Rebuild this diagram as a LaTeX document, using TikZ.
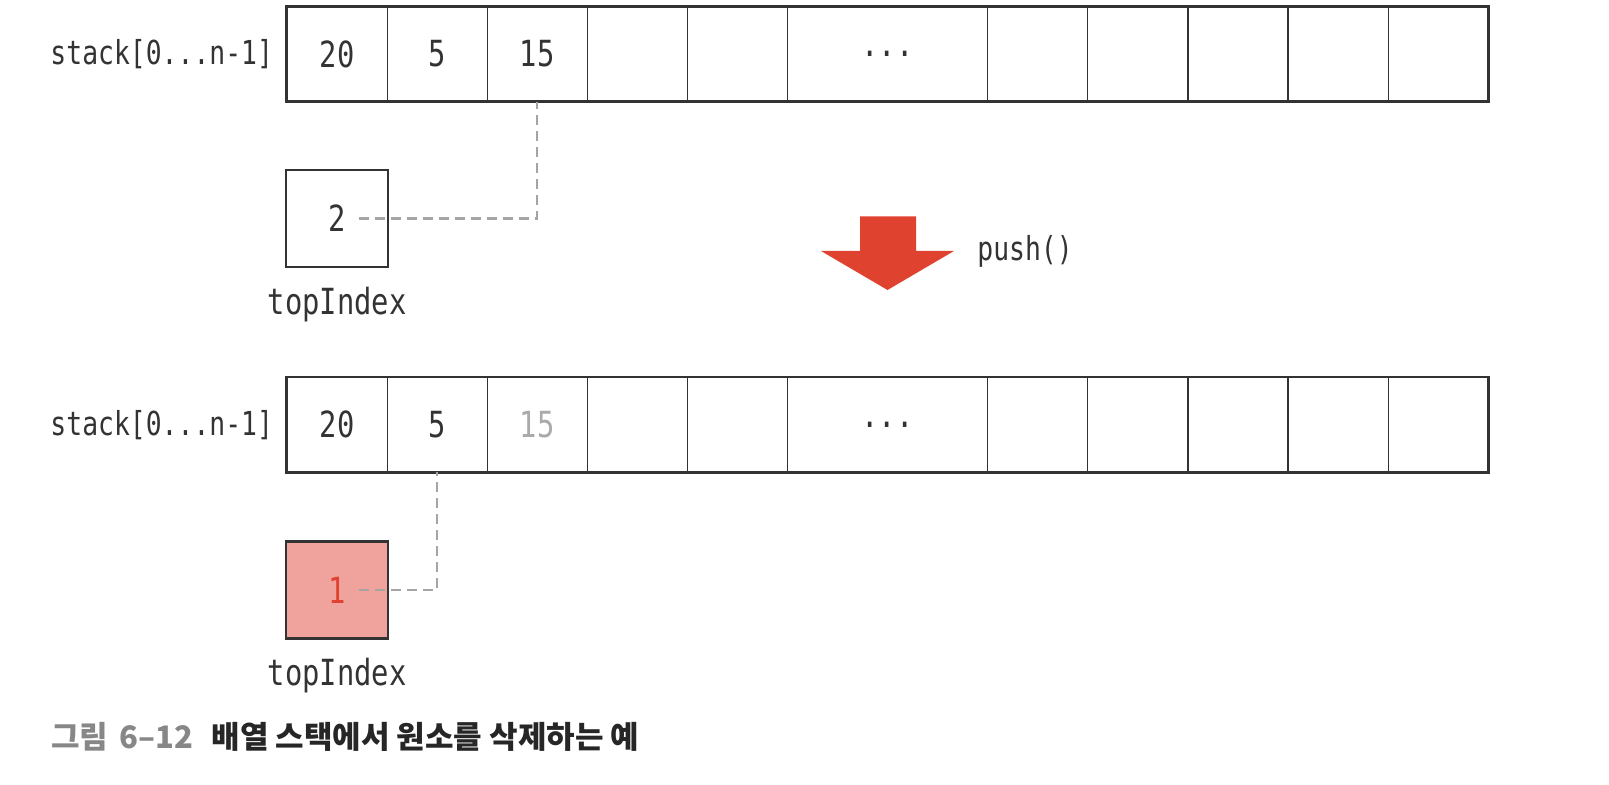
\documentclass[tikz,border=0pt]{standalone}
\usepackage{fontspec}
\setmonofont{DejaVu Sans Mono}[FakeStretch=0.8]
\newfontfamily\krfont{Noto Sans CJK KR}
\usetikzlibrary{positioning}
\definecolor{inkgray}{RGB}{51,51,51}
\definecolor{linkgray}{RGB}{165,165,165}
\definecolor{fadegray}{RGB}{170,170,170}
\definecolor{capgray}{RGB}{135,135,135}
\definecolor{popred}{RGB}{224,66,48}
\definecolor{popfill}{RGB}{240,162,157}
\tikzset{
  cell/.style={draw=inkgray, line width=0.6pt, minimum width=50.05pt, minimum height=47pt, inner sep=0pt, font=\ttfamily\fontsize{18pt}{20pt}\selectfont, text=inkgray},
  widecell/.style={cell, minimum width=100.1pt},
  frame/.style={draw=inkgray, line width=1.4pt},
  idxbox/.style={draw=inkgray, line width=1.4pt, minimum width=51pt, minimum height=48.5pt, inner sep=0pt, font=\ttfamily\fontsize{18pt}{20pt}\selectfont, text=inkgray},
  codelbl/.style={font=\ttfamily\fontsize{16.5pt}{18pt}\selectfont, text=inkgray, inner sep=0pt},
  idxlbl/.style={font=\ttfamily\fontsize{18pt}{20pt}\selectfont, text=inkgray, inner sep=0pt},
  link/.style={draw=linkgray, line width=1.2pt, dash pattern={on 5pt off 3pt}},
}
\begin{document}
\begin{tikzpicture}[x=0.5pt,y=0.5pt,yscale=-1,xscale=1]
\useasboundingbox (0,0) rectangle (1609,785);

% Array before push
\node[cell] (a0) at (337.05,54) {20};
\node[cell] (a1) at (437.15,54) {5};
\node[cell] (a2) at (537.25,54) {15};
\node[cell] (a3) at (637.35,54) {};
\node[cell] (a4) at (737.45,54) {};
\node[widecell] (a5) at (887.6,54) {...};
\node[cell] (a6) at (1037.75,54) {};
\node[cell] (a7) at (1137.85,54) {};
\node[cell] (a8) at (1237.95,54) {};
\node[cell] (a9) at (1338.05,54) {};
\node[cell] (a10) at (1438.15,54) {};
\draw[frame] (a0.north west) rectangle (a10.south east);
\node[codelbl, left=6.5pt of a0] (nameA) {stack[0...n-1]};

% topIndex before
\node[idxbox, below=33.5pt of a0] (idxA) {2};
\node[idxlbl, below=9pt of idxA] (idxlblA) {topIndex};
\draw[link] ([xshift=11pt]idxA.center) -| (a2.south);

% Arrow
\fill[popred] (860,216.5) -- (916,216.5) -- (916,251) -- (954,251) -- (887.5,290) -- (821,251) -- (860,251) -- cycle;
\node[codelbl, anchor=west] (pushLbl) at (977,251) {push()};

% Array after push
\node[cell] (b0) at (337.05,424.7) {20};
\node[cell] (b1) at (437.15,424.7) {5};
\node[cell, text=fadegray] (b2) at (537.25,424.7) {15};
\node[cell] (b3) at (637.35,424.7) {};
\node[cell] (b4) at (737.45,424.7) {};
\node[widecell] (b5) at (887.6,424.7) {...};
\node[cell] (b6) at (1037.75,424.7) {};
\node[cell] (b7) at (1137.85,424.7) {};
\node[cell] (b8) at (1237.95,424.7) {};
\node[cell] (b9) at (1338.05,424.7) {};
\node[cell] (b10) at (1438.15,424.7) {};
\draw[frame] (b0.north west) rectangle (b10.south east);
\node[codelbl, left=6.5pt of b0] (nameB) {stack[0...n-1]};

% topIndex after
\node[idxbox, fill=popfill, text=popred, below=34pt of b0] (idxB) {1};
\node[idxlbl, below=9pt of idxB] (idxlblB) {topIndex};
\draw[link] ([xshift=11pt]idxB.center) -| (b1.south);

% Caption
\node[anchor=west, inner sep=0pt, font=\krfont\bfseries\fontsize{15.5pt}{18pt}\selectfont, text=black!85] (caption) at (51,737) {\textcolor{capgray}{그림\hspace{0.35em}6–12}\hspace{0.6em}배열 스택에서 원소를 삭제하는 예};

\end{tikzpicture}
\end{document}
